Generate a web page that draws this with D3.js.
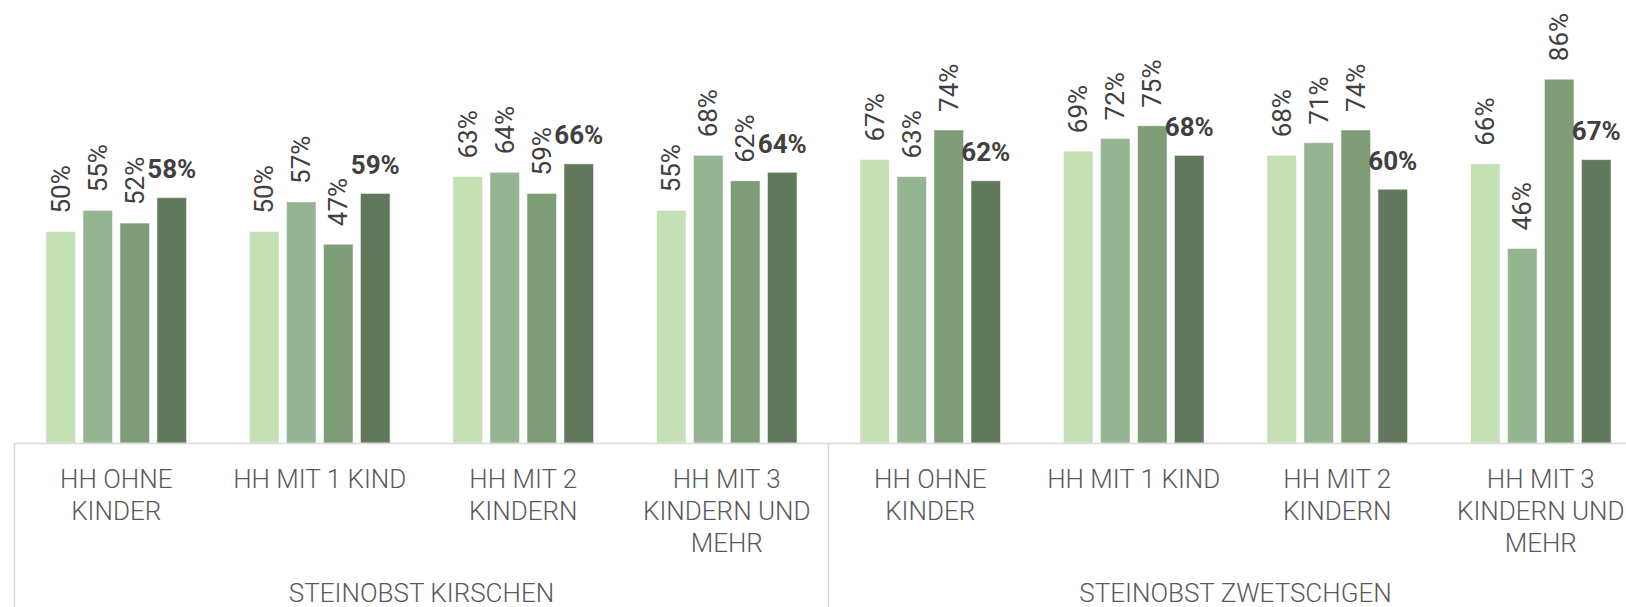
<!DOCTYPE html>
<html>
<head>
<meta charset="utf-8">
<script src="https://cdn.jsdelivr.net/npm/d3@7"></script>
<style>
  body { margin: 0; background: #fff; }
  svg { display: block; font-family: Roboto, "Noto Sans", sans-serif; }
</style>
</head>
<body>
<div id="chart"></div>
<script>
// groups and categories
var groups = ["STEINOBST KIRSCHEN", "STEINOBST ZWETSCHGEN"];
var categories = [
  ["HH OHNE", "KINDER"],
  ["HH MIT 1 KIND"],
  ["HH MIT 2", "KINDERN"],
  ["HH MIT 3", "KINDERN UND", "MEHR"]
];
var series = ["s1", "s2", "s3", "s4"];

// values per group, one array per series (category order)
var kirschen = [
  [0.50, 0.50, 0.63, 0.55],
  [0.55, 0.57, 0.64, 0.68],
  [0.52, 0.47, 0.59, 0.62],
  [0.58, 0.59, 0.66, 0.64]
];
var zwetschgen = [
  [0.67, 0.69, 0.68, 0.66],
  [0.63, 0.72, 0.71, 0.46],
  [0.74, 0.75, 0.74, 0.86],
  [0.62, 0.68, 0.60, 0.67]
];
var colors = ["#c5e0b4", "#95b592", "#7e9d77", "#62785d"];

var width = 1626, height = 607;
var left = 14.5, band = 203.5, base = 443;

var svg = d3.select("#chart")
  .append("svg")
    .attr("width", width)
    .attr("height", height);

// build flat rows
var rows = [];
var keys = [];
[kirschen, zwetschgen].forEach(function(vals, g) {
  categories.forEach(function(c, ci) {
    var key = g + "-" + ci;
    keys.push(key);
    series.forEach(function(s, si) {
      rows.push({key: key, s: s, si: si, v: vals[si][ci]});
    });
  });
});

var x0 = d3.scaleBand()
  .domain(keys)
  .range([left, left + band * keys.length]);

var x1 = d3.scaleBand()
  .domain(series)
  .range([0, x0.bandwidth()])
  .paddingInner(0.2)
  .paddingOuter(0.85);

var y = d3.scaleLinear()
  .domain([0, 1])
  .range([base, 20]);

var fmt = d3.format(".0%");

// bars
svg.selectAll("rect.bar")
  .data(rows)
  .enter()
  .append("rect")
    .attr("class", "bar")
    .attr("x", function(d) { return x0(d.key) + x1(d.s); })
    .attr("y", function(d) { return y(d.v); })
    .attr("width", x1.bandwidth())
    .attr("height", function(d) { return base - y(d.v); })
    .attr("fill", function(d) { return colors[d.si]; })
    .attr("stroke", "rgba(255,255,255,0.55)")
    .attr("stroke-width", 1);

// labels: first three series rotated, last one bold
svg.selectAll("text.lbl")
  .data(rows)
  .enter()
  .append("text")
    .attr("class", "lbl")
    .attr("font-size", 26)
    .attr("fill", "#404040")
    .attr("font-weight", function(d) { return d.si == 3 ? 700 : 400; })
    .attr("text-anchor", function(d) { return d.si == 3 ? "middle" : "start"; })
    .attr("transform", function(d) {
      var cx = x0(d.key) + x1(d.s) + x1.bandwidth() / 2;
      if (d.si == 3) return "translate(" + cx + "," + (y(d.v) - 19.5) + ")";
      return "translate(" + (cx + 9) + "," + (y(d.v) - 18) + ")rotate(-90)";
    })
    .text(function(d) { return fmt(d.v); });

// axis line and separators
var axisColor = "#d9d9d9";
svg.append("line")
  .attr("x1", left).attr("x2", width)
  .attr("y1", base + 0.5).attr("y2", base + 0.5)
  .attr("stroke", axisColor).attr("stroke-width", 1.5);

var seps = [0, 4, 8].map(function(i) { return left + band * i; });
svg.selectAll("line.sep")
  .data(seps)
  .enter()
  .append("line")
    .attr("class", "sep")
    .attr("x1", function(d) { return d; })
    .attr("x2", function(d) { return d; })
    .attr("y1", base)
    .attr("y2", height)
    .attr("stroke", axisColor)
    .attr("stroke-width", 1.5);

// category labels
var catG = svg.selectAll("g.cat")
  .data(keys)
  .enter()
  .append("g")
    .attr("class", "cat")
    .attr("transform", function(d) {
      return "translate(" + (x0(d) + x0.bandwidth() / 2) + ",0)";
    });

catG.selectAll("text")
  .data(function(d) { return categories[+d.split("-")[1]]; })
  .enter()
  .append("text")
    .attr("text-anchor", "middle")
    .attr("font-size", 26)
    .attr("font-weight", 300)
    .attr("fill", "#595959")
    .attr("y", function(d, i) { return 487.5 + i * 32.2; })
    .text(function(d) { return d; });

// group labels
svg.selectAll("text.grp")
  .data(groups)
  .enter()
  .append("text")
    .attr("class", "grp")
    .attr("text-anchor", "middle")
    .attr("font-size", 26)
    .attr("font-weight", 300)
    .attr("fill", "#595959")
    .attr("x", function(d, i) { return left + band * (4 * i + 2); })
    .attr("y", 602)
    .text(function(d) { return d; });
</script>
</body>
</html>
